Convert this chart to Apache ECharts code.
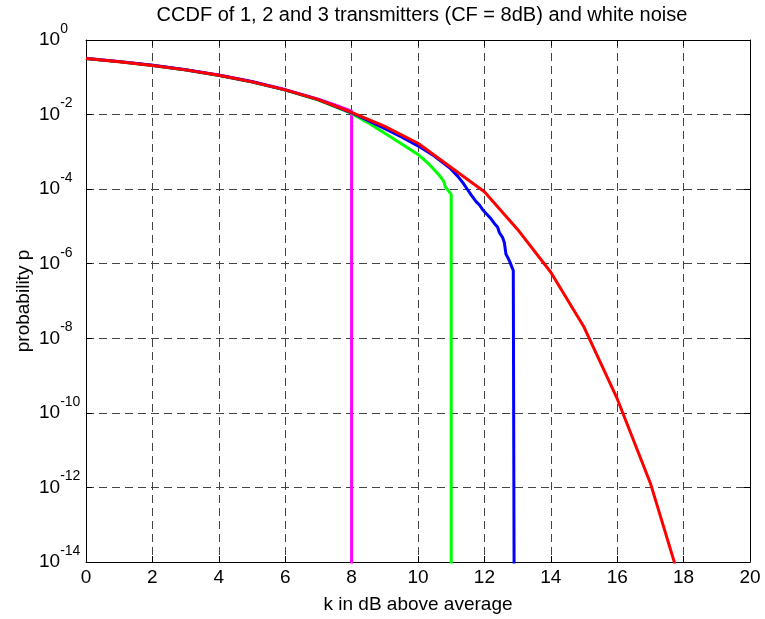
<!DOCTYPE html>
<html><head><meta charset="utf-8">
<script src="https://cdn.jsdelivr.net/npm/echarts@6/dist/echarts.min.js"></script>
<style>html,body{margin:0;padding:0;background:#fff}#c{width:765px;height:619px}</style>
</head><body><div id="c"></div>
<script>
// white noise (red), sampled at integer dB
const redK = [0,1,2,3,4,5,6,7,8,9,10,11,12,13,14,15,16,17,18];
const redP = [0.317,0.262,0.208,0.158,0.113,0.0754,0.046,0.0252,0.0115,0.0048,0.0017,3.8e-4,8.5e-5,8.3e-6,5.9e-7,2.0e-8,2.4e-10,1.3e-12,1.5e-15];
// 1 transmitter (magenta)
const magK = [0,1,2,3,4,5,6,7,7.5,8,8];
const magP = [0.322,0.266,0.21,0.16,0.115,0.0768,0.0468,0.0258,0.0182,0.0124,1e-16];
// 2 transmitters (green)
const grnK = [0,1,2,3,4,5,6,7,8,8.5,9,9.5,10,10.3,10.6,10.72,10.78,10.82,10.88,11.0,11.0];
const grnP = [0.318,0.26,0.206,0.157,0.112,0.0745,0.0452,0.0246,0.0107,0.006,0.00316,0.00166,8.5e-4,5.0e-4,2.6e-4,1.9e-4,1.6e-4,1.15e-4,1.0e-4,7.2e-5,1e-16];
// 3 transmitters (blue)
const bluK = [0,1,2,3,4,5,6,7,8,9,9.5,10,10.5,10.96,11.2,11.35,11.5,11.6,11.75,11.85,11.95,12.1,12.2,12.3,12.4,12.45,12.55,12.6,12.63,12.65,12.7,12.77,12.82,12.87,12.9,12.9];
const bluP = [0.32,0.263,0.209,0.159,0.113,0.0756,0.046,0.0251,0.0112,0.0042,0.0025,0.00145,7.6e-4,3.7e-4,2.2e-4,1.5e-4,9.5e-5,7.0e-5,4.6e-5,3.8e-5,2.8e-5,2.0e-5,1.6e-5,1.2e-5,9.5e-6,6.9e-6,5.0e-6,3.7e-6,3.6e-6,1.8e-6,1.5e-6,1.1e-6,8.5e-7,6.6e-7,6.0e-7,1e-16];

const titleText = 'CCDF of 1, 2 and 3 transmitters (CF = 8dB) and white noise';
const xName = 'k in dB above average';
const yName = 'probability p';

const FONT = '"Liberation Sans", Arial, Helvetica, sans-serif';
const pairs = (k, p) => k.map((v, i) => [v, p[i]]);
const gridStyle = {show: true, lineStyle: {color: '#444', width: 1, type: [8, 5]}};
const tick = {show: true, inside: true, length: 6, lineStyle: {color: '#000'}};
const axLine = {show: true, onZero: false, lineStyle: {color: '#000', width: 1}};

const chart = echarts.init(document.getElementById('c'), null, {renderer: 'canvas'});
chart.setOption({
  animation: false,
  backgroundColor: '#fff',
  title: {text: titleText, left: 417, top: 0, textAlign: 'center',
    textStyle: {fontFamily: FONT, fontSize: 20, fontWeight: 'normal', color: '#000'}},
  grid: {left: 86, right: 15, top: 40, bottom: 55},
  xAxis: [{
    type: 'value', min: 0, max: 20, interval: 2, position: 'bottom',
    name: xName, nameLocation: 'middle', nameGap: 33, nameMoveOverlap: false,
    nameTextStyle: {fontFamily: FONT, fontSize: 19, color: '#000'},
    axisLine: axLine, axisTick: tick, splitLine: gridStyle,
    axisLabel: {fontFamily: FONT, fontSize: 19, color: '#000', margin: 6}
  }, {
    type: 'value', min: 0, max: 20, interval: 2, position: 'top',
    axisLine: axLine, axisTick: tick, splitLine: {show: false}, axisLabel: {show: false}
  }],
  yAxis: [{
    type: 'log', logBase: 10, min: 1e-14, max: 1, interval: 2, position: 'left',
    name: yName, nameLocation: 'middle', nameGap: 53, nameRotate: 90, nameMoveOverlap: false,
    nameTextStyle: {fontFamily: FONT, fontSize: 19, color: '#000'},
    axisLine: axLine, axisTick: tick, splitLine: gridStyle,
    axisLabel: {
      align: 'left', margin: 47, color: '#000',
      formatter: v => '{b|10}{s|' + Math.round(Math.log10(v)) + '}',
      rich: {
        b: {fontFamily: FONT, fontSize: 19, lineHeight: 20, color: '#000'},
        s: {fontFamily: FONT, fontSize: 14, lineHeight: 14, padding: [0, 0, 22, 0], color: '#000'}
      }
    }
  }, {
    type: 'log', logBase: 10, min: 1e-14, max: 1, interval: 2, position: 'right',
    axisLine: axLine, axisTick: tick, splitLine: {show: false}, axisLabel: {show: false}
  }],
  series: [
    {type: 'line', data: pairs(magK, magP), showSymbol: false, symbol: 'none', clip: true,
      lineStyle: {color: '#ff00ff', width: 3}, itemStyle: {color: '#ff00ff'}},
    {type: 'line', data: pairs(grnK, grnP), showSymbol: false, symbol: 'none', clip: true,
      lineStyle: {color: '#00ff00', width: 3}, itemStyle: {color: '#00ff00'}},
    {type: 'line', data: pairs(bluK, bluP), showSymbol: false, symbol: 'none', clip: true,
      lineStyle: {color: '#0000ff', width: 3}, itemStyle: {color: '#0000ff'}},
    {type: 'line', data: pairs(redK, redP), showSymbol: false, symbol: 'none', clip: true,
      lineStyle: {color: '#ff0000', width: 3}, itemStyle: {color: '#ff0000'}}
  ]
});
</script></body></html>
